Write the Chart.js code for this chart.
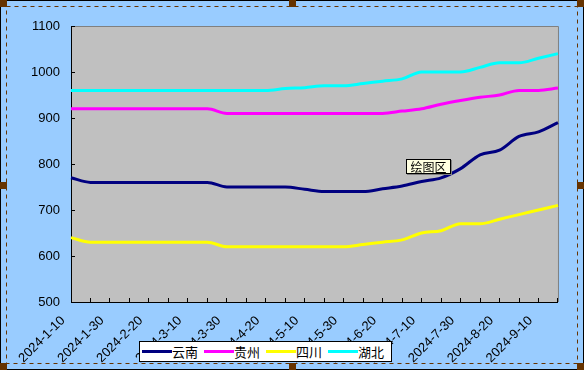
<!DOCTYPE html>
<html>
<head>
<meta charset="utf-8">
<script src="https://cdn.jsdelivr.net/npm/chart.js@4.4.1/dist/chart.umd.min.js"></script>
<style>
  body { margin: 0; background: #99CCFF; }
  #wrap { position: relative; width: 584px; height: 370px; }
  #legend {
    position: absolute; left: 139px; top: 341px; width: 249px; height: 19px;
    background: #fff; border: 1px solid #000; display: flex; align-items: center;
    font: 13px "Noto Sans CJK SC", sans-serif; color: #000; padding-left: 2px; box-sizing: content-box;
  }
  #legend .item { display: flex; align-items: center; }
  #legend .swatch { width: 30px; height: 3px; }
  #legend .txt { width: 32px; }
  #tip {
    position: absolute; left: 406px; top: 159px; width: 43px; height: 13px;
    background: #FFFFE1; border: 1px solid #000; box-shadow: 1px 1px 0 #808080;
    font: 12px "Noto Sans CJK SC", sans-serif; line-height: 13px; text-align: center; color: #000;
  }
</style>
</head>
<body>
<div id="wrap">
  <canvas id="c" width="584" height="370"></canvas>
  <div id="legend"></div>
  <div id="tip">绘图区</div>
</div>
<script>
// dekad dates, tick labels shown on every other one
var dates = ['2024-1-10','2024-1-20','2024-1-30','2024-2-10','2024-2-20','2024-2-29','2024-3-10','2024-3-20','2024-3-30',
  '2024-4-10','2024-4-20','2024-4-30','2024-5-10','2024-5-20','2024-5-30','2024-6-10','2024-6-20','2024-6-30',
  '2024-7-10','2024-7-20','2024-7-30','2024-8-10','2024-8-20','2024-8-30','2024-9-10','2024-9-20'];

var yunnan  = [770,760,760,760,760,760,760,760,750,750,750,750,745,740,740,740,746,752,762,770,790,820,830,860,870,890];
var guizhou = [920,920,920,920,920,920,920,920,910,910,910,910,910,910,910,910,910,915,920,930,938,945,950,960,960,965];
var sichuan = [640,630,630,630,630,630,630,630,620,620,620,620,620,620,620,625,630,635,650,655,670,670,680,690,700,710];
var hubei   = [960,960,960,960,960,960,960,960,960,960,960,964,966,970,970,975,980,985,1000,1000,1000,1010,1020,1020,1030,1040];

var seriesNames = ['云南', '贵州', '四川', '湖北'];
var seriesColors = ['#000080', '#FF00FF', '#FFFF00', '#00FFFF'];
var seriesData = [yunnan, guizhou, sichuan, hubei];

var yMin = 500, yMax = 1100, yStep = 100;

var font = { family: '"Liberation Sans", Arial, sans-serif', size: 13 };

// background, plot area and the excel style selection frame
var frame = {
  id: 'frame',
  beforeDraw: function (chart) {
    var ctx = chart.ctx, a = chart.chartArea;
    ctx.save();
    ctx.fillStyle = '#99CCFF';
    ctx.fillRect(0, 0, chart.width, chart.height);
    ctx.fillStyle = '#C0C0C0';
    ctx.fillRect(a.left, a.top, a.right - a.left, a.bottom - a.top);
    ctx.strokeStyle = '#808080';
    ctx.lineWidth = 1;
    ctx.beginPath();
    ctx.moveTo(a.left, a.top + 0.5);
    ctx.lineTo(a.right + 0.5, a.top + 0.5);
    ctx.lineTo(a.right + 0.5, a.bottom);
    ctx.stroke();
    ctx.restore();
  },
  afterDraw: function (chart) {
    var ctx = chart.ctx, w = chart.width, h = chart.height;
    ctx.save();
    ctx.strokeStyle = '#000';
    ctx.lineWidth = 1;
    ctx.strokeRect(0.5, 0.5, w - 1, h - 1);
    ctx.strokeStyle = '#663300';
    ctx.setLineDash([4, 4]);
    ctx.strokeRect(6.5, 6.5, 577 - 6, 363 - 6);
    ctx.setLineDash([]);
    ctx.fillStyle = '#663300';
    var hs = [[0, 0], [289, 0], [577, 0], [0, 182], [577, 182], [0, 363], [289, 363], [577, 363]];
    hs.forEach(function (p) { ctx.fillRect(p[0], p[1], 7, 7); });
    ctx.restore();
  }
};

var chart = new Chart(document.getElementById('c'), {
  type: 'line',
  data: {
    labels: dates,
    datasets: seriesNames.map(function (n, i) {
      return {
        label: n,
        data: seriesData[i],
        borderColor: seriesColors[i],
        backgroundColor: seriesColors[i],
        borderWidth: 3,
        pointRadius: 0,
        cubicInterpolationMode: 'monotone',
        fill: false
      };
    })
  },
  options: {
    responsive: false,
    animation: false,
    layout: { padding: { left: 0, top: 26, right: 15, bottom: 0 } },
    plugins: { legend: { display: false }, tooltip: { enabled: false } },
    scales: {
      x: {
        offset: false,
        grid: { drawOnChartArea: false, tickLength: -4, color: '#000' },
        border: { color: '#000', width: 1 },
        ticks: {
          autoSkip: false, maxRotation: 45, minRotation: 45, color: '#000', font: font,
          padding: 15, labelOffset: -8,
          callback: function (v, i) { return i % 2 === 0 ? dates[i] : ''; }
        },
        afterFit: function (s) { s.height = 68; }
      },
      y: {
        min: yMin, max: yMax,
        grid: { drawOnChartArea: false, tickLength: -4, color: '#000' },
        border: { color: '#000', width: 1 },
        ticks: {
          stepSize: yStep, color: '#000', font: font, padding: 15,
          callback: function (v) { return String(v); }
        },
        afterFit: function (s) { s.width = 71; }
      }
    }
  },
  plugins: [frame]
});

// legend built from the datasets
var lg = document.getElementById('legend');
chart.data.datasets.forEach(function (ds) {
  var it = document.createElement('div');
  it.className = 'item';
  it.innerHTML = '<span class="swatch" style="background:' + ds.borderColor + '"></span><span class="txt">' + ds.label + '</span>';
  lg.appendChild(it);
});
</script>
</body>
</html>
